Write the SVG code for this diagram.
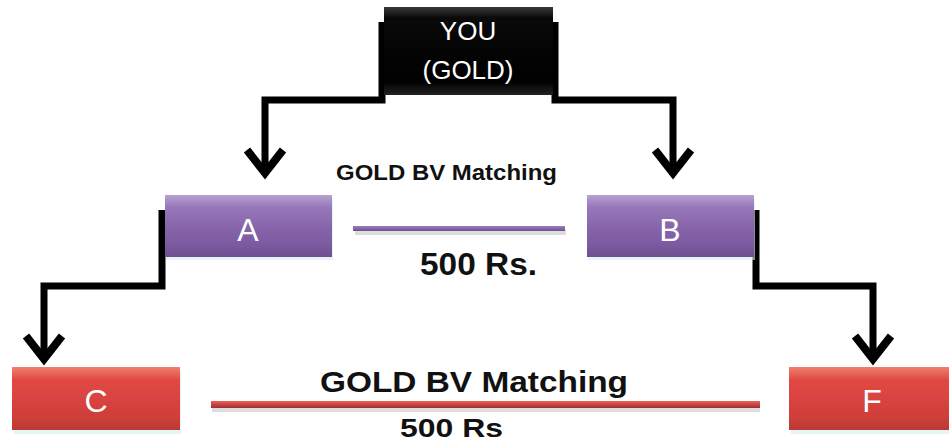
<svg xmlns="http://www.w3.org/2000/svg" width="949" height="444" viewBox="0 0 949 444">
<style>
.conn{fill:none;stroke:#000;stroke-width:7;stroke-linejoin:miter}
.head{fill:none;stroke:#000;stroke-width:8;stroke-linecap:butt;stroke-linejoin:miter}
.lbl{font-family:"Liberation Sans",Arial,sans-serif;fill:#fff;text-anchor:middle}
.blk{font-family:"Liberation Sans",Arial,sans-serif;font-weight:bold;fill:#111}
</style>
<defs>
<linearGradient id="gBlack" x1="0" y1="0" x2="0" y2="1">
<stop offset="0" stop-color="#3a3a3a"/><stop offset="0.12" stop-color="#0a0a0a"/><stop offset="0.85" stop-color="#000"/><stop offset="1" stop-color="#222"/>
</linearGradient>
<linearGradient id="gPurple" x1="0" y1="0" x2="0" y2="1">
<stop offset="0" stop-color="#b7a2cf"/><stop offset="0.2" stop-color="#9678b9"/><stop offset="0.5" stop-color="#8966ab"/><stop offset="0.8" stop-color="#7b5aa0"/><stop offset="1" stop-color="#6e4f8e"/>
</linearGradient>
<linearGradient id="gRed" x1="0" y1="0" x2="0" y2="1">
<stop offset="0" stop-color="#f08070"/><stop offset="0.2" stop-color="#e14a42"/><stop offset="0.5" stop-color="#d94341"/><stop offset="0.8" stop-color="#cf3e38"/><stop offset="1" stop-color="#b83a35"/>
</linearGradient>
<linearGradient id="gPLine" x1="0" y1="0" x2="0" y2="1">
<stop offset="0" stop-color="#9a80c0"/><stop offset="1" stop-color="#6e4f8e"/>
</linearGradient>
<linearGradient id="gRLine" x1="0" y1="0" x2="0" y2="1">
<stop offset="0" stop-color="#f0605a"/><stop offset="0.5" stop-color="#c84444"/><stop offset="1" stop-color="#9c3030"/>
</linearGradient>
</defs>

<g id="connectors">
<path class="conn" d="M382,22 V100 H265 V172"/>
<path class="head" d="M247,150 L265,173 L283,150"/>
<path class="conn" d="M555,22 V100 H673 V172"/>
<path class="head" d="M655,150 L673,173 L691,150"/>
<path class="conn" d="M162,210 V286 H44 V358"/>
<path class="head" d="M26,336 L44,359 L62,336"/>
<path class="conn" d="M756,210 V286 H873 V358"/>
<path class="head" d="M855,336 L873,359 L891,336"/>
</g>

<g id="node-you">
<rect x="384" y="7" width="169" height="88" fill="url(#gBlack)"/>
<text class="lbl" x="468" y="40" font-size="26">YOU</text>
<text class="lbl" x="468" y="79" font-size="26">(GOLD)</text>
</g>

<g id="node-a">
<rect x="166" y="198" width="167" height="62" fill="#d6ecf2" opacity="0.6"/>
<rect x="165" y="195" width="167" height="62" fill="url(#gPurple)"/>
<text class="lbl" x="248" y="241" font-size="32">A</text>
</g>

<g id="node-b">
<rect x="588" y="198" width="167" height="62" fill="#d6ecf2" opacity="0.6"/>
<rect x="587" y="195" width="167" height="62" fill="url(#gPurple)"/>
<text class="lbl" x="670" y="241" font-size="32">B</text>
</g>

<g id="node-c">
<rect x="14" y="370" width="167" height="64" fill="#d6ecf2" opacity="0.6"/>
<rect x="12" y="367" width="168" height="63" fill="url(#gRed)"/>
<text class="lbl" x="96" y="412" font-size="32">C</text>
</g>

<g id="node-f">
<rect x="791" y="370" width="160" height="64" fill="#d6ecf2" opacity="0.6"/>
<rect x="789" y="367" width="162" height="63" fill="url(#gRed)"/>
<text class="lbl" x="872" y="412" font-size="32">F</text>
</g>

<g id="matching">
<rect x="355" y="230" width="211" height="5" fill="#ddd"/>
<rect x="353" y="226" width="212" height="5" fill="url(#gPLine)"/>
<text class="blk" x="336" y="180" font-size="22" textLength="221" lengthAdjust="spacingAndGlyphs">GOLD BV Matching</text>
<text class="blk" x="420" y="275" font-size="32" textLength="117" lengthAdjust="spacingAndGlyphs">500 Rs.</text>
<rect x="212" y="407" width="548" height="5" fill="#ddd"/>
<rect x="211" y="401" width="549" height="7" fill="url(#gRLine)"/>
<text class="blk" x="320" y="392" font-size="30" textLength="308" lengthAdjust="spacingAndGlyphs">GOLD BV Matching</text>
<text class="blk" x="400" y="437" font-size="26" textLength="103" lengthAdjust="spacingAndGlyphs">500 Rs</text>
</g>
</svg>
